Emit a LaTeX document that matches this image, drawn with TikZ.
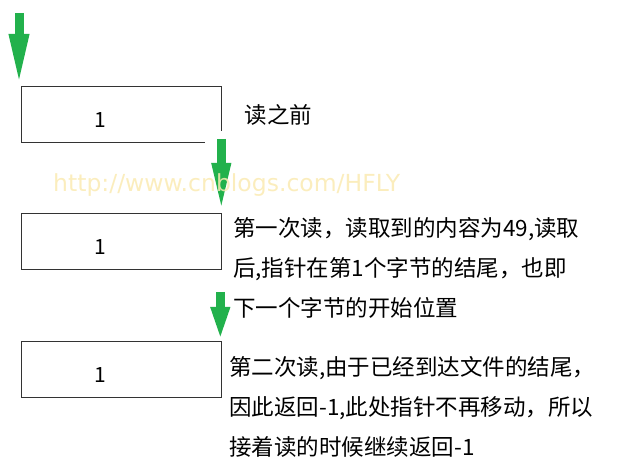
\documentclass[tikz,border=0pt]{standalone}
\usepackage{fontspec}
\newfontfamily\cjk{Noto Sans CJK SC}
\newfontfamily\wmfont{DejaVu Sans}
\usetikzlibrary{arrows.meta,positioning}
\definecolor{paintgreen}{RGB}{34,177,76}
\definecolor{markyellow}{RGB}{250,234,178}

\begin{document}
\begin{tikzpicture}[x=1pt,y=-1pt,
  cell/.style={draw=black!80,line width=1.3pt,minimum width=200pt,minimum height=56pt,inner sep=0pt},
  digit/.style={font=\cjk\fontsize{21}{21}\selectfont,inner sep=0pt},
  note/.style={font=\cjk\fontsize{22.5}{40}\selectfont,align=left,inner sep=0pt},
  ptr/.style={draw=paintgreen,line width=9pt}]
\useasboundingbox (0,0) rectangle (643,470);
% the three cells
\node[cell,anchor=north west] (b1) at (21,86) {};
\node[cell,anchor=north west] (b2) at (21,213) {};
\node[cell,anchor=north west] (b3) at (21,341) {};
\node[digit] (v1) at ([xshift=-21pt,yshift=-5pt]b1.center) {1};
\node[digit] (v2) at ([xshift=-21pt,yshift=-5pt]b2.center) {1};
\node[digit] (v3) at ([xshift=-21pt,yshift=-5pt]b3.center) {1};
\fill[white] (205,131) rectangle (232,146);
% pointers
\coordinate (p1) at ([xshift=-2pt,yshift=73pt]b1.north west);
\coordinate (p2) at ([xshift=-1pt,yshift=74pt]b2.north east);
\coordinate (p3) at ([xshift=-2pt,yshift=49pt]b3.north east);
\draw[ptr,-{Triangle[width=18pt,length=52pt]}] (p1) -- ([xshift=-2pt]b1.north west);
\draw[ptr,-{Triangle[width=17pt,length=50pt]}] (p2) -- ([xshift=-1pt]b2.north east);
\draw[ptr,-{Triangle[width=17pt,length=34pt]}] (p3) -- ([xshift=-2pt]b3.north east);
% labels
\node[note,right=22pt of b1] (t0) {读之前};
\node[note,anchor=north west] (t1) at (233,217)
  {第一次读，读取到的内容为49,读取\\后,指针在第1个字节的结尾，也即\\下一个字节的开始位置};
\node[note,anchor=north west] (t2) at (229,356)
  {第二次读,由于已经到达文件的结尾，\\因此返回-1,此处指针不再移动，所以\\接着读的时候继续返回-1};
\node[font=\wmfont\fontsize{23.5}{23.5}\selectfont,text=markyellow,opacity=0.85,anchor=west,inner sep=0pt] (wm) at (53,185) {http://www.cnblogs.com/HFLY};
\end{tikzpicture}
\end{document}
